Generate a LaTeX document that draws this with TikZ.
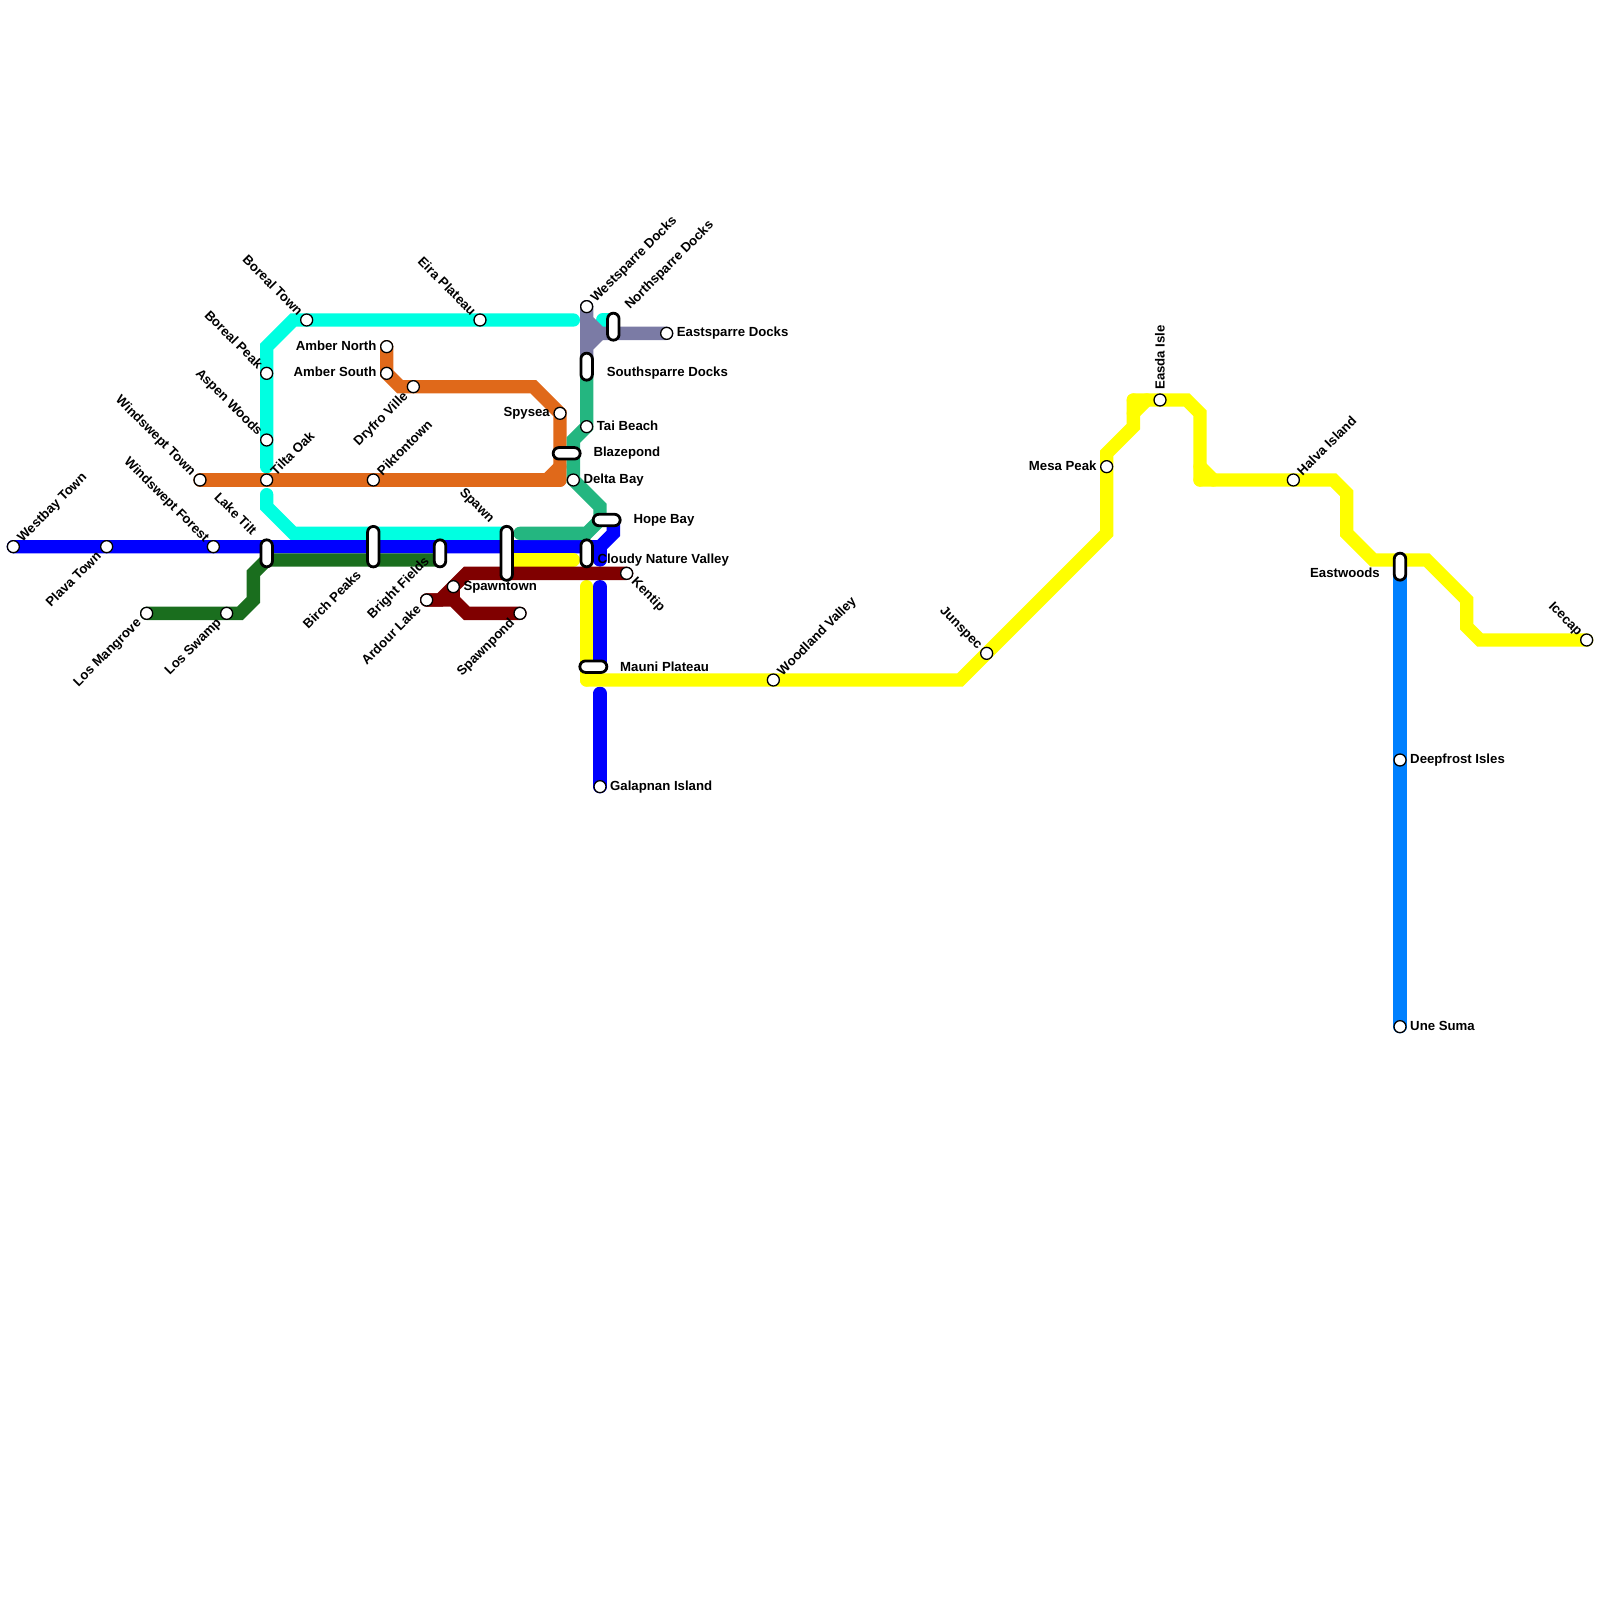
\documentclass[tikz,border=0pt]{standalone}
\usepackage{fontspec}
\setmainfont{Liberation Sans}
\usetikzlibrary{
  backgrounds,
  shapes.misc
}

\begin{document}
\begin{tikzpicture}[
    x=13.333pt,
    y=-13.333pt,
    estacao/.style={
        circle,
        draw=black,
        fill=white,
        line width=1.3pt,
        minimum size=12pt,
        inner sep=0pt
    },
    capsula/.style={
        rounded rectangle,
        draw=black,
        fill=white,
        line width=2.8pt,
        minimum height=11.5pt,
        minimum width=#1,
        inner sep=0pt
    },
    nome/.style={
        font=\fontsize{13.2}{15}\selectfont\bfseries,
        inner sep=0pt,
        text height=9.6pt,
        text depth=0.4pt,
        text=black
    },
    nomeE/.style={nome, anchor=west, xshift=10pt, yshift=1pt},
    nomeW/.style={nome, anchor=east, xshift=-10pt, yshift=1pt},
    nomeNE/.style={nome, anchor=west, xshift=6pt, yshift=7pt, rotate=45},
    nomeNW/.style={nome, anchor=east, xshift=-6pt, yshift=7pt, rotate=-45},
    nomeSW/.style={nome, anchor=east, xshift=-8pt, yshift=-7pt, rotate=45},
    nomeSE/.style={nome, anchor=west, xshift=7.4pt, yshift=-6pt, rotate=-45},
    linha/.style={
        line width=13.333pt,
        line cap=round
    }
]

\definecolor{ciano}{HTML}{00FFE1}
\definecolor{azul}{HTML}{0000FF}
\definecolor{azulclaro}{HTML}{0080FF}
\definecolor{verdeesc}{HTML}{1A6E1E}
\definecolor{laranja}{HTML}{E0691A}
\definecolor{marrom}{HTML}{800000}
\definecolor{teal}{HTML}{24B680}
\definecolor{roxo}{HTML}{7B7BA5}
\definecolor{amarelo}{HTML}{FFFF00}

\useasboundingbox (0,0) rectangle (120,120);

% ============================================================
% ESTACOES
% ============================================================

\node[estacao] (westbay) at (1,41) {};
\node[estacao] (plava) at (8,41) {};
\node[estacao] (wforest) at (16,41) {};
\node[estacao] (mangrove) at (11,46) {};
\node[estacao] (swamp) at (17,46) {};
\node[estacao] (wtown) at (15,36) {};
\node[estacao] (tilta) at (20,36) {};
\node[estacao] (pikton) at (28,36) {};
\node[estacao] (aspen) at (20,33) {};
\node[estacao] (bpeak) at (20,28) {};
\node[estacao] (btown) at (23,24) {};
\node[estacao] (eira) at (36,24) {};
\node[estacao] (anorth) at (29,26) {};
\node[estacao] (asouth) at (29,28) {};
\node[estacao] (dryfro) at (31,29) {};
\node[estacao] (spysea) at (42,31) {};
\node[estacao] (tai) at (44,32) {};
\node[estacao] (delta) at (43,36) {};
\node[estacao] (wsparre) at (44,23) {};
\node[estacao] (esparre) at (50,25) {};
\node[estacao] (kentip) at (47,43) {};
\node[estacao] (spawntown) at (34,44) {};
\node[estacao] (ardour) at (32,45) {};
\node[estacao] (spawnpond) at (39,46) {};
\node[estacao] (galapnan) at (45,59) {};
\node[estacao] (woodland) at (58,51) {};
\node[estacao] (junspec) at (74,49) {};
\node[estacao] (mesa) at (83,35) {};
\node[estacao] (easda) at (87,30) {};
\node[estacao] (halva) at (97,36) {};
\node[estacao] (icecap) at (119,48) {};
\node[estacao] (deepfrost) at (105,57) {};
\node[estacao] (suma) at (105,77) {};

% ============================================================
% TROCAS
% ============================================================

\node[capsula=27pt, rotate=90] (laketilt) at (20,41.5) {};
\node[capsula=40.5pt, rotate=90] (birch) at (28,41) {};
\node[capsula=27pt, rotate=90] (bright) at (33,41.5) {};
\node[capsula=54pt, rotate=90] (spawn) at (38,41.5) {};
\node[capsula=27pt, rotate=90] (cloudy) at (44,41.5) {};
\node[capsula=27pt] (hope) at (45.5,39) {};
\node[capsula=27pt] (blaze) at (42.5,34) {};
\node[capsula=27pt, rotate=90] (ssparre) at (44,27.5) {};
\node[capsula=27pt, rotate=90] (nsparre) at (46,24.5) {};
\node[capsula=27pt] (mauni) at (44.5,50) {};
\node[capsula=27pt, rotate=90] (eastwoods) at (105,42.5) {};

% ============================================================
% LINHAS
% ============================================================

\begin{pgfonlayer}{background}
\draw[linha, ciano] (43,24) -- (btown.center) -- (22,24) -- (20,26) -- (20,35);
\draw[linha, ciano] (20,37.1) -- (20,38) -- (22,40) -- (spawn.center |- 0,40);
\draw[linha, ciano] (45.2,24) -- (nsparre.center |- 0,24);

\draw[linha, roxo] (wsparre.center) -- (44,24) -- (45,25) -- (esparre.center);
\draw[linha, roxo] (45,25) -- (44,26) -- (44,27);
\draw[linha, roxo] (wsparre.center) -- (44,27);

\draw[linha, azul] (westbay.center) -- (45,41) -- (46,40) -- (46,39);
\draw[linha, azul] (45,41) -- (45,42);
\draw[linha, azul] (45,44) -- (45,50);
\draw[linha, azul] (45,52) -- (galapnan.center);

\draw[linha, verdeesc] (mangrove.center) -- (18,46) -- (19,45) -- (19,43) -- (20,42) -- (33,42);

\draw[linha, laranja] (anorth.center) -- (asouth.center) -- (30,29) -- (40,29) -- (spysea.center) -- (42,36);
\draw[linha, laranja] (42,36) -- (wtown.center);
\draw[linha, laranja] (42,35) -- (41,36);

\draw[linha, teal] (39,40) -- (44,40) -- (45,39) -- (45,38) -- (delta.center) -- (43,33) -- (tai.center) -- (44,27.5);

\draw[linha, amarelo] (38,42) -- (43,42);
\draw[linha, amarelo] (44,44) -- (44,51);
\draw[linha, amarelo] (44,51) -- (72,51) -- (83,40) -- (83,34) -- (85,32) -- (85,30);
\draw[linha, amarelo] (85,31) -- (86,30);
\draw[linha, amarelo] (85,30) -- (89,30) -- (90,31) -- (90,36);
\draw[linha, amarelo] (90,35) -- (91,36);
\draw[linha, amarelo] (90,36) -- (100,36) -- (101,37) -- (101,40) -- (103,42) -- (107,42) -- (110,45) -- (110,47) -- (111,48) -- (icecap.center);

\draw[linha, azulclaro] (eastwoods.center) -- (suma.center);

\draw[linha, marrom] (kentip.center) -- (35,43) -- (33,45) -- (ardour.center);
\draw[linha, marrom] (ardour.center) -- (34,45) -- (35,46) -- (spawnpond.center);
\draw[linha, marrom] (spawntown.center) -- (34,45);
\end{pgfonlayer}

% ============================================================
% NOMES
% ============================================================

\node[nomeNE] (westbayn) at (westbay) {Westbay Town};
\node[nomeSW] (plavan) at (plava) {Plava Town};
\node[nomeNW] (wforestn) at (wforest) {Windswept Forest};
\node[nomeSW] (mangroven) at (mangrove) {Los Mangrove};
\node[nomeSW] (swampn) at (swamp) {Los Swamp};
\node[nomeNW] (wtownn) at (wtown) {Windswept Town};
\node[nomeNE] (tiltan) at (tilta) {Tilta Oak};
\node[nomeNE] (piktonn) at (pikton) {Piktontown};
\node[nomeNW] (aspenn) at (aspen) {Aspen Woods};
\node[nomeNW] (bpeakn) at (bpeak) {Boreal Peak};
\node[nomeNW] (btownn) at (btown) {Boreal Town};
\node[nomeNW] (eiran) at (eira) {Eira Plateau};
\node[nomeW] (anorthn) at (anorth) {Amber North};
\node[nomeW] (asouthn) at (asouth) {Amber South};
\node[nomeSW] (dryfron) at (dryfro) {Dryfro Ville};
\node[nomeW] (spysean) at (spysea) {Spysea};
\node[nomeE] (tain) at (tai) {Tai Beach};
\node[nomeE] (deltan) at (delta) {Delta Bay};
\node[nomeNE] (wsparren) at (wsparre) {Westsparre Docks};
\node[nomeE] (esparren) at (esparre) {Eastsparre Docks};
\node[nomeSE] (kentipn) at (kentip) {Kentip};
\node[nomeE] (spawntownn) at (spawntown) {Spawntown};
\node[nomeSW] (ardourn) at (ardour) {Ardour Lake};
\node[nomeSW] (spawnpondn) at (spawnpond) {Spawnpond};
\node[nomeE] (galapnann) at (galapnan) {Galapnan Island};
\node[nomeNE] (woodlandn) at (woodland) {Woodland Valley};
\node[nomeNW] (junspecn) at (junspec) {Junspec};
\node[nomeW] (mesan) at (mesa) {Mesa Peak};
\node[nome, anchor=west, yshift=10pt, rotate=90] (easdan) at (easda) {Easda Isle};
\node[nomeNE] (halvan) at (halva) {Halva Island};
\node[nomeNW] (icecapn) at (icecap) {Icecap};
\node[nomeE] (deepfrostn) at (deepfrost) {Deepfrost Isles};
\node[nomeE] (suman) at (suma) {Une Suma};

\node[nome, anchor=east, rotate=-45] (laketiltn) at (19.1,39.95) {Lake Tilt};
\node[nome, anchor=east, rotate=45] (birchn) at (26.9,42.95) {Birch Peaks};
\node[nome, anchor=east, rotate=45] (brightn) at (32,41.9) {Bright Fields};
\node[nome, anchor=east, rotate=-45] (spawnn) at (36.95,39) {Spawn};
\node[nome, anchor=west] (cloudyn) at (44.8,41.9) {Cloudy Nature Valley};
\node[nome, anchor=west] (hopen) at (47.5,38.9) {Hope Bay};
\node[nome, anchor=west] (blazen) at (44.5,33.9) {Blazepond};
\node[nome, anchor=west] (ssparren) at (45.5,27.9) {Southsparre Docks};
\node[nome, anchor=west, rotate=45] (nsparren) at (47,23) {Northsparre Docks};
\node[nome, anchor=west] (maunin) at (46.5,50) {Mauni Plateau};
\node[nome, anchor=east] (eastwoodsn) at (103.5,42.95) {Eastwoods};

\end{tikzpicture}
\end{document}
